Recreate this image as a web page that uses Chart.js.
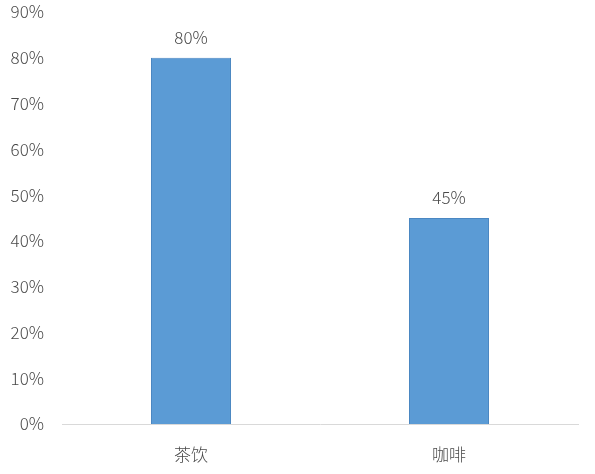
<!DOCTYPE html>
<html>
<head>
<meta charset="utf-8">
<script src="https://cdn.jsdelivr.net/npm/chart.js@4/dist/chart.umd.min.js"></script>
<style>
  html, body { margin: 0; padding: 0; background: #fff; }
  #wrap { width: 595px; height: 474px; }
</style>
</head>
<body>
<div id="wrap"><canvas id="c"></canvas></div>
<script>
// values
const categories = ['茶饮', '咖啡'];
const shares = [80, 45];
const yMax = 90;
const yStep = 10;

const textColor = '#4a4a4a';
const fontFamily = '"Noto Sans CJK SC", "Noto Sans", sans-serif';

// draw the value above each bar
const valueLabels = {
  id: 'valueLabels',
  afterDatasetsDraw(chart){
    const {ctx} = chart;
    const meta = chart.getDatasetMeta(0);
    ctx.save();
    ctx.font = '300 17px ' + fontFamily;
    ctx.fillStyle = textColor;
    ctx.textAlign = 'center';
    ctx.textBaseline = 'bottom';
    meta.data.forEach((bar, i) => {
      ctx.fillText(shares[i] + '%', bar.x, bar.y - 12);
    });
    ctx.restore();
  }
};

new Chart(document.getElementById('c'), {
  type: 'bar',
  data: {
    labels: categories,
    datasets: [{
      data: shares,
      backgroundColor: '#5B9BD5',
      borderColor: '#4A87C2',
      borderWidth: 1,
      categoryPercentage: 1,
      barPercentage: 0.31
    }]
  },
  options: {
    responsive: true,
    maintainAspectRatio: false,
    animation: false,
    layout: { padding: { top: 12, right: 17, left: 0, bottom: 0 } },
    plugins: { legend: { display: false }, tooltip: { enabled: false } },
    scales: {
      x: {
        grid: { display: false, drawTicks: false },
        border: { display: true, color: '#D9D9D9', width: 1 },
        ticks: { color: textColor, font: { size: 17, weight: 300, family: fontFamily }, padding: 20 },
        afterFit(s){ s.height = 50; s.paddingLeft = 0; s.paddingRight = 0; }
      },
      y: {
        min: 0, max: yMax,
        grid: { display: false, drawTicks: false },
        border: { display: false },
        ticks: {
          stepSize: yStep,
          color: textColor,
          font: { size: 17, weight: 300, family: fontFamily },
          padding: 18,
          callback: v => v + '%'
        },
        afterFit(s){ s.width = 62; s.paddingTop = 0; s.paddingBottom = 0; }
      }
    }
  },
  plugins: [valueLabels]
});
</script>
</body>
</html>
